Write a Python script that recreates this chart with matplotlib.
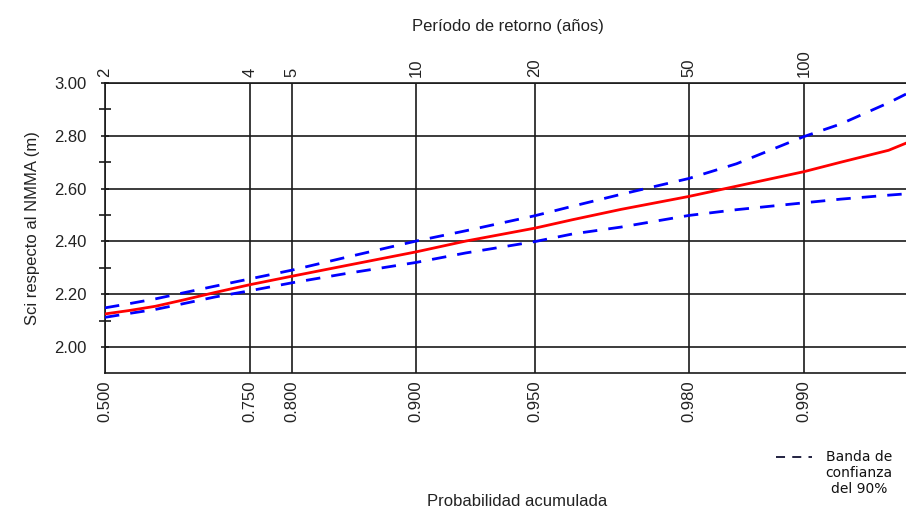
import numpy as np
import matplotlib
matplotlib.use("Agg")
import matplotlib.pyplot as plt
from matplotlib.lines import Line2D
from matplotlib.ticker import FixedLocator, NullLocator

# probabilidad acumulada y valores
prob = [0.5, 0.55, 0.6, 0.65, 0.7, 0.75, 0.8, 0.85, 0.9, 0.925, 0.95,
        0.96, 0.97, 0.98, 0.985, 0.99, 0.992, 0.994, 0.9946]
sci = [2.125, 2.138, 2.154, 2.178, 2.206, 2.236, 2.268, 2.307, 2.360, 2.401, 2.450,
       2.482, 2.521, 2.570, 2.609, 2.664, 2.700, 2.745, 2.772]
banda_sup = [2.148, 2.164, 2.182, 2.205, 2.230, 2.258, 2.291, 2.338, 2.401, 2.440, 2.497,
             2.533, 2.578, 2.638, 2.694, 2.797, 2.845, 2.925, 2.958]
banda_inf = [2.112, 2.127, 2.142, 2.164, 2.189, 2.213, 2.243, 2.277, 2.320, 2.356, 2.399,
             2.428, 2.454, 2.498, 2.520, 2.546, 2.560, 2.575, 2.580]

prob_ticks = [0.5, 0.75, 0.8, 0.9, 0.95, 0.98, 0.99]
prob_labels = ["0.500", "0.750", "0.800", "0.900", "0.950", "0.980", "0.990"]
periodos = [2, 4, 5, 10, 20, 50, 100]
y_ticks = [2.0, 2.2, 2.4, 2.6, 2.8, 3.0]
y_minor = [2.1, 2.3, 2.5, 2.7, 2.9]


def gumbel(p):
    p = np.clip(np.asarray(p, dtype=float), 1e-12, 1 - 1e-12)
    return -np.log(-np.log(p))


def gumbel_inv(y):
    return np.exp(-np.exp(-np.asarray(y, dtype=float)))


plt.rcParams['font.family'] = ['Liberation Sans', 'DejaVu Sans']
txt = '#222222'
grid_c = '#1a1a1a'

fig = plt.figure(figsize=(9.06, 5.08), dpi=100)
ax = fig.add_axes([105 / 906, (508 - 373.3) / 508, 801 / 906, (373.3 - 83) / 508])

ax.set_xscale('function', functions=(gumbel, gumbel_inv))
ax.plot(prob, banda_sup, color='#0000ff', lw=2.0, ls=(0, (5.2, 4)), zorder=3)
ax.plot(prob, banda_inf, color='#0000ff', lw=2.0, ls=(0, (5.2, 4)), zorder=3)
ax.plot(prob, sci, color='#ff0000', lw=2.0, zorder=4)

ax.set_xlim(0.5, 0.9946)
ax.set_ylim(1.9, 3.0)

ax.xaxis.set_major_locator(FixedLocator(prob_ticks))
ax.xaxis.set_minor_locator(NullLocator())
ax.set_xticklabels(prob_labels, rotation=90, fontsize=12, color=txt)
ax.tick_params(axis='x', length=0, pad=5)

ax.yaxis.set_major_locator(FixedLocator(y_ticks))
ax.yaxis.set_minor_locator(FixedLocator(y_minor))
ax.set_yticklabels(["%.2f" % v for v in y_ticks], fontsize=12, color=txt)
ax.tick_params(axis='y', which='major', direction='inout', length=6, width=1.2,
               color=grid_c, pad=10)
ax.tick_params(axis='y', which='minor', direction='inout', length=9, width=1.2,
               color=grid_c)

ax.grid(True, which='major', color=grid_c, lw=1.2)
for s in ['left', 'bottom', 'top']:
    ax.spines[s].set_color(grid_c)
    ax.spines[s].set_linewidth(1.2)
ax.spines['right'].set_visible(False)

# eje superior: periodo de retorno
ax_top = ax.twiny()
ax_top.set_xscale('function', functions=(gumbel, gumbel_inv))
ax_top.set_xlim(ax.get_xlim())
ax_top.xaxis.set_major_locator(FixedLocator([1 - 1 / t for t in periodos]))
ax_top.xaxis.set_minor_locator(NullLocator())
ax_top.set_xticklabels([str(t) for t in periodos], rotation=90, fontsize=12, color=txt)
ax_top.tick_params(axis='x', length=0, pad=4)
for s in ax_top.spines.values():
    s.set_visible(False)

fig.text(508 / 906, 1 - 27 / 508, "Período de retorno (años)", ha='center', va='center',
         fontsize=12, color=txt)
fig.text(517 / 906, 1 - 501 / 508, "Probabilidad acumulada", ha='center', va='center',
         fontsize=12, color=txt)
fig.text(33 / 906, 1 - 228 / 508, "Sci respecto al NMMA (m)", ha='center', va='center',
         rotation=90, fontsize=12, color=txt)

# leyenda de la banda
fig.add_artist(Line2D([776 / 906, 812 / 906], [1 - 457 / 508, 1 - 457 / 508],
                      color='#111133', lw=1.3, ls=(0, (5, 4))))
fig.text(859 / 906, 1 - 473 / 508, "Banda de\nconfianza\ndel 90%", ha='center', va='center',
         multialignment='center', fontsize=10, family='DejaVu Sans', color='#111111',
         linespacing=1.15)

fig.savefig("out.png", dpi=100)
